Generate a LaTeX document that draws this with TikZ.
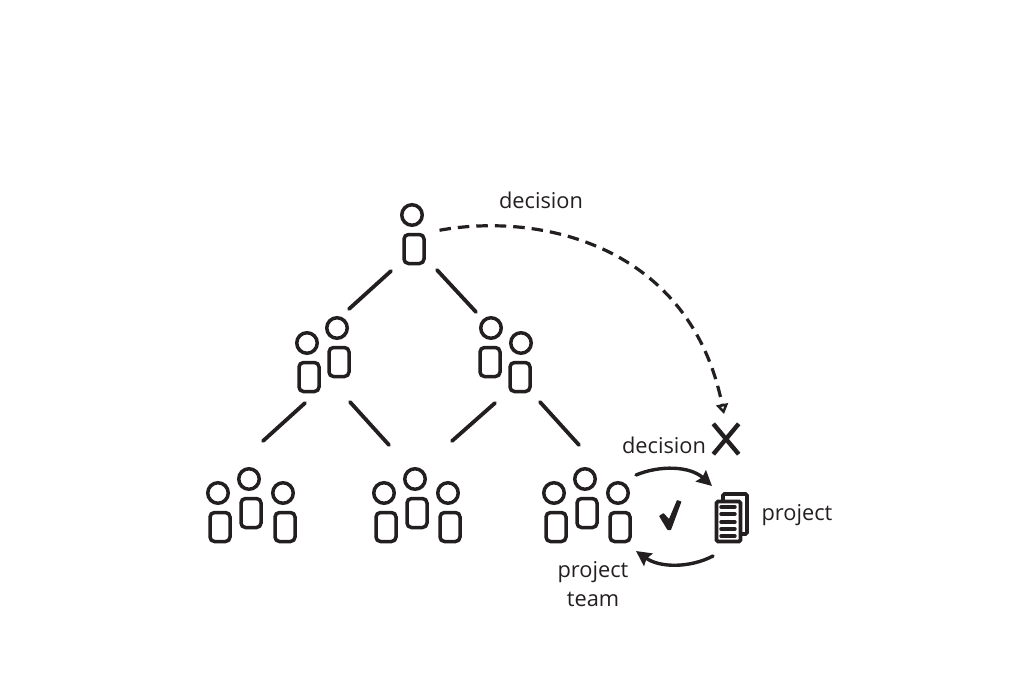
\documentclass[tikz,border=0pt]{standalone}
\usepackage{fontspec}
\setmainfont{Open Sans}
\usetikzlibrary{arrows.meta,shapes.misc}
\definecolor{ink}{HTML}{231F20}
\tikzset{
	head/.style={circle, draw=ink, line width=3.5pt, minimum size=20.5pt, inner sep=0pt},
	body/.style={rounded corners=4.5pt, draw=ink, line width=3.5pt, minimum width=20pt, minimum height=29pt, inner sep=0pt},
	label/.style={text=ink, font=\fontsize{21.8}{29}\selectfont, align=center, inner sep=0pt},
	link/.style={draw=ink, line width=3.8pt, line cap=round},
	cycle/.style={draw=ink, line width=3.4pt, line cap=round, -{Stealth[length=15pt, width=15pt, inset=2pt]}},
	page/.style={draw=ink, fill=white, line width=3.6pt, rounded corners=1.5pt, minimum width=24pt, minimum height=40pt, inner sep=0pt}
}
% one figure: head at (x,y), body just below it
\newcommand{\person}[4][2]{
	\node [head] (#2h) at (#3,#4) {};
	\node [body] (#2b) at (#3+#1,#4+34) {};
}
\begin{document}
\begin{tikzpicture}[x=1pt, y=-1pt]
	\useasboundingbox (0,0) rectangle (1021,681);

	% People
	\person{top}{412}{215}
	\person{la}{307}{343}
	\person{lb}{337}{328}
	\person[-1]{ra}{491}{328}
	\person[-1]{rb}{521}{343}
	\person{ua}{218}{493}
	\person{ub}{249}{479}
	\person{uc}{283}{493}
	\person{va}{384}{493}
	\person{vb}{415}{479}
	\person{vc}{448}{493}
	\person{wa}{554}{493}
	\person{wb}{585}{479}
	\person{wc}{618}{493}

	% Free ends of the tree lines
	\coordinate (t1) at (391,271);
	\coordinate (t2) at (349,309);
	\coordinate (t3) at (437,270);
	\coordinate (t4) at (476,312);
	\coordinate (l1) at (305,403);
	\coordinate (l2) at (263,441);
	\coordinate (l3) at (350,402);
	\coordinate (l4) at (389,445);
	\coordinate (r1) at (495,403);
	\coordinate (r2) at (452,441);
	\coordinate (r3) at (540,402);
	\coordinate (r4) at (579,445);

	% Tree
	\path [link] (t1) edge (t2);
	\path [link] (t3) edge (t4);
	\path [link] (l1) edge (l2);
	\path [link] (l3) edge (l4);
	\path [link] (r1) edge (r2);
	\path [link] (r3) edge (r4);

	% Project sheets
	\node [page] (back) at (735,514) {};
	\node [page] (front) at (728.5,521.5) {};
	\foreach \ypos in {507,514,522,529,536}
		\draw [ink, line width=3.4pt, line cap=round] (721,\ypos) -- (735,\ypos);

	% Refused and accepted marks
	\node [cross out, draw=ink, line width=4.4pt, minimum width=21pt, minimum height=26pt, inner sep=0pt] (refuse) at (726,439) {};
	\fill [ink, rounded corners=0.5pt] (659,516) -- (663.5,513) -- (669,519) -- (677,500) -- (681.5,501.5) -- (671,530) -- (667.5,530) -- cycle;

	% Paths
	\coordinate (ca) at (636,475);
	\coordinate (cb) at (712,486);
	\coordinate (cc) at (713,556);
	\coordinate (cd) at (636,551);
	\draw [cycle] (ca) .. controls (660,465) and (690,466) .. (cb);
	\draw [cycle] (cc) .. controls (690,568) and (660,568) .. (cd);
	\draw [draw=ink, line width=3.2pt, dash pattern=on 11.5pt off 7pt, -{Triangle[open, length=10pt, width=12pt, line width=2.8pt]}, shorten <=14pt, shorten >=10pt] (topb.north east) .. controls (540,212) and (690,245) .. (refuse.north);

	% Labels
	\node [label] (ldecision) at (541,200) {decision};
	\node [label] (rdecision) at (664,445) {decision};
	\node [label] (lproject) at (797,515) {project};
	\node [label] (lteam) at (593,584) {project\\team};
\end{tikzpicture}
\end{document}
